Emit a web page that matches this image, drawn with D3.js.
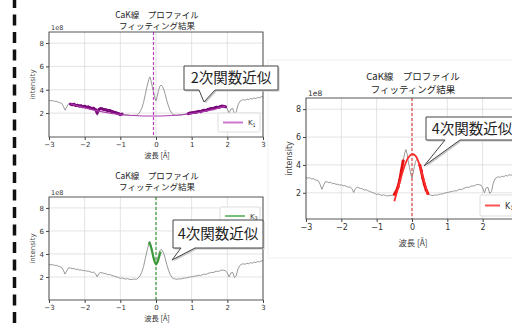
<!DOCTYPE html>
<html>
<head>
<meta charset="utf-8">
<script src="https://cdn.jsdelivr.net/npm/d3@7"></script>
<style>
  body { margin: 0; background: #fff; }
  svg { display: block; font-family: "Noto Sans CJK JP", "Noto Sans", sans-serif; }
</style>
</head>
<body>
<svg id="chart" width="512" height="326"></svg>
<script>
// observed CaK profile, intensity in units of 1e8
const wavelength = [-3.00,-2.95,-2.90,-2.85,-2.80,-2.75,-2.70,-2.65,-2.60,-2.55,-2.50,-2.45,-2.40,-2.35,-2.30,-2.25,-2.20,-2.15,-2.10,-2.05,
  -2.00,-1.95,-1.90,-1.85,-1.80,-1.75,-1.70,-1.65,-1.60,-1.55,-1.50,-1.45,-1.40,-1.35,-1.30,-1.25,-1.20,-1.15,-1.10,-1.05,
  -1.00,-0.95,-0.90,-0.85,-0.80,-0.75,-0.70,-0.65,-0.60,-0.55,-0.50,-0.45,-0.40,-0.35,-0.30,-0.25,-0.20,-0.17,-0.14,-0.10,
  -0.07,-0.03,0.00,0.03,0.07,0.10,0.14,0.18,0.22,0.26,0.30,0.35,0.40,0.45,0.50,0.55,0.60,0.65,0.70,0.75,
  0.80,0.85,0.90,0.95,1.00,1.05,1.10,1.15,1.20,1.25,1.30,1.35,1.40,1.45,1.50,1.55,1.60,1.65,1.70,1.75,
  1.80,1.85,1.90,1.95,2.00,2.05,2.10,2.15,2.20,2.25,2.30,2.35,2.40,2.45,2.50,2.55,2.60,2.65,2.70,2.75,
  2.80,2.85,2.90,2.95,3.00];
const intensity = [3.10,3.05,3.08,3.00,3.02,2.95,2.90,2.85,2.60,2.25,2.55,2.80,2.78,2.72,2.75,2.65,2.68,2.60,2.62,2.55,
  2.58,2.50,2.52,2.45,2.40,2.42,2.30,2.02,2.30,2.40,2.35,2.30,2.28,2.20,2.22,2.15,2.10,2.05,2.00,1.95,
  1.88,1.92,1.85,1.82,1.86,1.80,1.78,1.80,1.82,1.80,1.90,2.10,2.40,2.90,3.60,4.30,4.90,5.10,4.80,4.20,
  3.80,3.30,3.05,3.40,3.90,4.25,4.40,4.30,4.00,3.60,3.10,2.60,2.20,1.95,1.85,1.82,1.80,1.85,1.82,1.88,
  1.90,1.92,1.95,2.00,2.02,2.05,2.08,2.10,2.15,2.12,2.20,2.25,2.22,2.30,2.35,2.40,2.38,2.45,2.50,2.48,
  2.55,2.60,2.58,2.55,2.35,2.00,2.35,2.40,1.95,2.10,2.70,3.00,3.10,3.15,3.10,3.20,3.15,3.25,3.20,3.30,
  3.25,3.35,3.30,3.40,3.40];

const xTicks = [-3, -2, -1, 0, 1, 2, 3];
const yTicks = [2, 4, 6, 8];

// K1 quadratic fit (panel 1)
const quadFitX = [-2.4, -2.0, -1.5, -1.0, -0.5, -0.1, 0.3, 0.8, 1.2, 1.6, 1.95];
const quadFitY = [2.80, 2.45, 2.10, 1.88, 1.77, 1.75, 1.77, 1.88, 2.05, 2.30, 2.60];
const quadRanges = [[-2.4, -0.95], [0.9, 1.95]];
const quadCenter = -0.07;

// K3 quartic fit (panel 2)
const k3FitX = [-0.20, -0.15, -0.10, -0.05, 0.00, 0.05, 0.10, 0.13];
const k3FitY = [5.05, 4.70, 4.10, 3.45, 3.10, 3.35, 3.90, 4.20];
const k3Center = 0;

// K1 quartic fit (panel 3)
const k1FitX = [-0.50, -0.40, -0.30, -0.20, -0.10, 0.00, 0.10, 0.20, 0.30, 0.40, 0.45];
const k1FitY = [1.40, 2.30, 3.20, 4.00, 4.55, 4.78, 4.65, 4.10, 3.20, 2.30, 1.85];
const k1Ranges = [[-0.5, -0.22], [0.2, 0.45]];
const k1Center = 0;

const titleLines = ["CaK線\u3000プロファイル", "フィッティング結果"];

const svg = d3.select("#chart");
const profile = wavelength.map((w, i) => ({ x: w, y: intensity[i] }));

// dashed black bar on the left edge
svg.append("line")
  .attr("x1", 14.5).attr("x2", 14.5).attr("y1", 0).attr("y2", 326)
  .attr("stroke", "#111").attr("stroke-width", 3.5)
  .attr("stroke-dasharray", "11,6.5").attr("stroke-dashoffset", 3);

// the third figure sits on its own very light card
svg.append("rect").attr("x", 268).attr("y", 60).attr("width", 250).attr("height", 198)
  .attr("fill", "#fff").attr("stroke", "#f1f1f1");

function drawPanel(p) {
  const g = svg.append("g");
  const x = d3.scaleLinear().domain([-3, 3]).range([p.left, p.right]);
  const y = d3.scaleLinear().domain(p.yDomain).range([p.bottom, p.top]);
  const fs = p.fs;

  const clipId = "clip" + p.id;
  g.append("clipPath").attr("id", clipId).append("rect")
    .attr("x", p.left).attr("y", p.top).attr("width", p.right - p.left).attr("height", p.bottom - p.top);

  // grid
  g.selectAll(".vg").data(xTicks).join("line")
    .attr("x1", d => x(d)).attr("x2", d => x(d)).attr("y1", p.top).attr("y2", p.bottom)
    .attr("stroke", "#dcdcdc").attr("stroke-width", 0.8);
  g.selectAll(".hg").data(yTicks).join("line")
    .attr("x1", p.left).attr("x2", p.right).attr("y1", d => y(d)).attr("y2", d => y(d))
    .attr("stroke", "#dcdcdc").attr("stroke-width", 0.8);

  const plot = g.append("g").attr("clip-path", `url(#${clipId})`);
  const line = d3.line().x(d => x(d.x)).y(d => y(d.y));

  plot.append("path").datum(profile).attr("d", line)
    .attr("fill", "none").attr("stroke", "#8c8c8c").attr("stroke-width", 0.9);

  // fitted data points, drawn thick
  (p.ranges || []).forEach(r => {
    const seg = profile.filter(d => d.x >= r[0] - 1e-9 && d.x <= r[1] + 1e-9);
    plot.append("path").datum(seg).attr("d", line)
      .attr("fill", "none").attr("stroke", p.dataColor).attr("stroke-width", 2.8);
    plot.selectAll(null).data(seg).join("circle")
      .attr("cx", d => x(d.x)).attr("cy", d => y(d.y)).attr("r", 1.5).attr("fill", p.dataColor);
  });

  const fit = p.fitX.map((v, i) => ({ x: v, y: p.fitY[i] }));
  plot.append("path").datum(fit)
    .attr("d", d3.line().x(d => x(d.x)).y(d => y(d.y)).curve(d3.curveCatmullRom))
    .attr("fill", "none").attr("stroke", p.fitColor).attr("stroke-width", p.fitWidth);

  plot.append("line")
    .attr("x1", x(p.center)).attr("x2", x(p.center)).attr("y1", p.top).attr("y2", p.bottom)
    .attr("stroke", p.vColor).attr("stroke-width", 1.2).attr("stroke-dasharray", "3,2");

  // axes
  const xa = g.append("g").attr("transform", `translate(0,${p.bottom})`)
    .call(d3.axisBottom(x).tickValues(xTicks).tickFormat(d3.format("d")).tickSize(3).tickPadding(2));
  const ya = g.append("g").attr("transform", `translate(${p.left},0)`)
    .call(d3.axisLeft(y).tickValues(yTicks).tickFormat(d3.format("d")).tickSize(3).tickPadding(2));
  [xa, ya].forEach(a => {
    a.select(".domain").remove();
    a.selectAll("line").attr("stroke", "#444");
    a.selectAll("text").attr("font-size", fs).attr("fill", "#333").attr("font-family", "DejaVu Sans");
  });

  g.append("rect").attr("x", p.left).attr("y", p.top)
    .attr("width", p.right - p.left).attr("height", p.bottom - p.top)
    .attr("fill", "none").attr("stroke", "#444").attr("stroke-width", 0.9);

  const tcx = p.titleX;
  titleLines.forEach((t, i) => {
    g.append("text").attr("x", tcx).attr("y", p.titleY[i]).attr("text-anchor", "middle")
      .attr("font-size", p.titleFs).attr("fill", "#222").text(t);
  });
  g.append("text").attr("x", p.left + 2).attr("y", p.top - 2)
    .attr("font-size", fs - 0.5).attr("fill", "#333").attr("font-family", "DejaVu Sans").text("1e8");
  g.append("text")
    .attr("transform", `translate(${p.left - 14},${(p.top + p.bottom) / 2}) rotate(-90)`)
    .attr("text-anchor", "middle").attr("font-size", fs).attr("fill", "#444")
    .attr("font-family", "DejaVu Sans").text("intensity");
  g.append("text").attr("x", tcx).attr("y", p.xLabelY).attr("text-anchor", "middle")
    .attr("font-size", fs + 0.3).attr("fill", "#333").text("波長 [Å]");

  // legend
  const L = p.legend;
  g.append("rect").attr("x", L.x).attr("y", L.y).attr("width", L.w).attr("height", L.h)
    .attr("fill", "#fff").attr("fill-opacity", 0.9).attr("stroke", "#ddd").attr("rx", 1.5);
  g.append("line").attr("x1", L.x + 5).attr("x2", L.x + 5 + L.len)
    .attr("y1", L.y + L.h / 2).attr("y2", L.y + L.h / 2)
    .attr("stroke", p.legendColor).attr("stroke-width", 2);
  const lt = g.append("text").attr("x", L.x + 10 + L.len).attr("y", L.y + L.h / 2 + fs * 0.38)
    .attr("font-size", fs).attr("fill", "#333").attr("font-family", "DejaVu Sans").text("K");
  lt.append("tspan").attr("font-size", fs - 2).attr("dy", 1.5).text(p.sub);

  // callout
  const C = p.callout;
  const path = `M${C.x},${C.y}H${C.x + C.w}V${C.y + C.h}H${C.base[1]}L${C.tip[0]},${C.tip[1]}L${C.base[0]},${C.y + C.h}H${C.x}Z`;
  svg.append("path").attr("d", path).attr("transform", "translate(1.5,1.5)").attr("fill", "#c8c8c8");
  svg.append("path").attr("d", path).attr("fill", "#fff").attr("stroke", "#444").attr("stroke-width", 1);
  svg.append("text").attr("x", C.x + C.w / 2).attr("y", C.y + C.h / 2 + 5)
    .attr("text-anchor", "middle").attr("font-size", 14.5).attr("fill", "#222").text(C.text);
}

drawPanel({
  id: 1, left: 49, right: 263, top: 32, bottom: 137, yDomain: [-0.05, 8.95], fs: 7, titleFs: 8.5,
  titleY: [17.5, 28.5], xLabelY: 158, titleX: 157,
  ranges: quadRanges, dataColor: "#7a0a7a",
  fitX: quadFitX, fitY: quadFitY, fitColor: "#b040b0", fitWidth: 1.2,
  center: quadCenter, vColor: "#c03cc0", legendColor: "#cc77cc", sub: "1",
  legend: { x: 218, y: 113, w: 42, h: 19, len: 20 },
  callout: { x: 184, y: 66, w: 94, h: 24, base: [199, 215], tip: [204, 102], text: "2次関数近似" }
});

drawPanel({
  id: 2, left: 49, right: 263, top: 197, bottom: 300, yDomain: [0, 8.95], fs: 7, titleFs: 8.5,
  titleY: [179, 190], xLabelY: 320.5, titleX: 157,
  ranges: [], dataColor: "#3c9c3c",
  fitX: k3FitX, fitY: k3FitY, fitColor: "#3c9c3c", fitWidth: 2.2,
  center: k3Center, vColor: "#3a9a3a", legendColor: "#77c077", sub: "3",
  legend: { x: 220, y: 207, w: 40, h: 18, len: 20 },
  callout: { x: 173, y: 220, w: 90, h: 28, base: [181, 195], tip: [172, 260], text: "4次関数近似" }
});

drawPanel({
  id: 3, left: 306, right: 518, top: 98, bottom: 219, yDomain: [0.12, 8.8], fs: 8, titleFs: 9.5,
  titleY: [80, 93], xLabelY: 246, titleX: 413,
  ranges: k1Ranges, dataColor: "#e01010",
  fitX: k1FitX, fitY: k1FitY, fitColor: "#ff2a2a", fitWidth: 1.8,
  center: k1Center, vColor: "#e04848", legendColor: "#ff5555", sub: "1",
  legend: { x: 480, y: 195, w: 40, h: 21, len: 15 },
  callout: { x: 426, y: 117, w: 92, h: 23, base: [445, 460], tip: [424, 166], text: "4次関数近似" }
});
</script>
</body>
</html>
